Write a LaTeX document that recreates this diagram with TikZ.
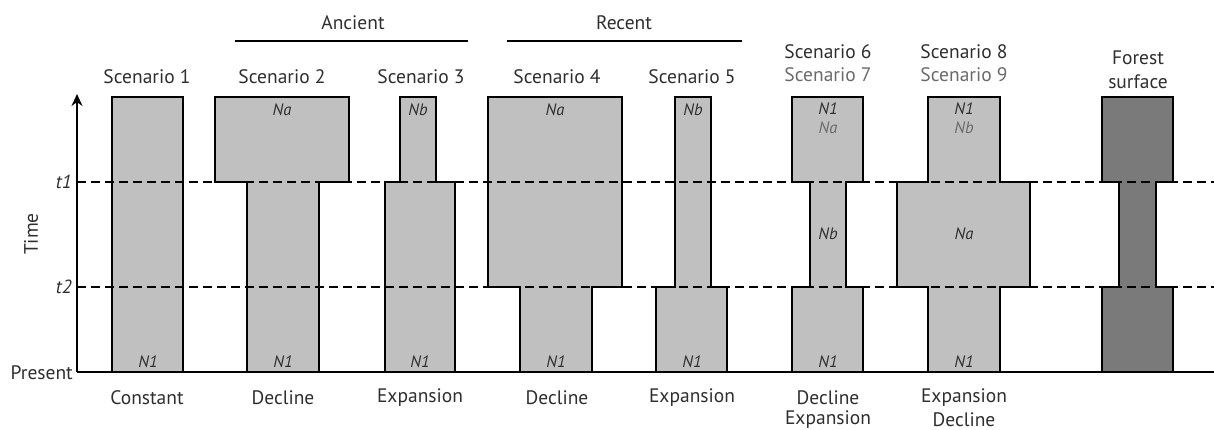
\documentclass[tikz,border=0pt]{standalone}
\usepackage{fontspec}
\setmainfont{PT Sans}
\usetikzlibrary{arrows.meta}
\definecolor{txt}{HTML}{2E2E2E}
\definecolor{txtlight}{HTML}{6A6A6A}
\definecolor{popfill}{HTML}{C0C0C0}
\definecolor{forestfill}{HTML}{7A7A7A}
\tikzset{
  pop/.style={draw=black, line width=2.3pt, fill=popfill, line join=miter},
  forestpop/.style={pop, fill=forestfill},
  lbl/.style={font=\fontsize{19.5}{22}\selectfont, text=txt, inner sep=0pt},
  lbllight/.style={lbl, text=txtlight},
  nlbl/.style={font=\fontsize{16.5}{18}\selectfont\itshape, text=txt, inner sep=0pt},
  nlbllight/.style={nlbl, text=txtlight},
  tlbl/.style={font=\fontsize{19}{21}\selectfont\itshape, text=txt, inner sep=0pt},
  timeline/.style={line width=2.2pt, dash pattern=on 9pt off 5pt},
  axisline/.style={line width=2.3pt},
  groupline/.style={line width=1.8pt},
}
\begin{document}
\begin{tikzpicture}[x=1pt,y=-1pt]
\useasboundingbox (0,0) rectangle (1214,430);
% scenario 1
\draw[pop] (112,97) -- (183,97) -- (183,372) -- (112,372) -- cycle;
% scenario 2
\draw[pop] (215,97) -- (349,97) -- (349,182) -- (319,182) -- (319,372) -- (247,372) -- (247,182) -- (215,182) -- cycle;
% scenario 3
\draw[pop] (400,97) -- (436,97) -- (436,182) -- (455,182) -- (455,372) -- (385,372) -- (385,182) -- (400,182) -- cycle;
% scenario 4
\draw[pop] (488,97) -- (622,97) -- (622,287) -- (592,287) -- (592,372) -- (520,372) -- (520,287) -- (488,287) -- cycle;
% scenario 5
\draw[pop] (675,97) -- (711,97) -- (711,287) -- (727,287) -- (727,372) -- (656,372) -- (656,287) -- (675,287) -- cycle;
% scenario 6/7
\draw[pop] (792,97) -- (863,97) -- (863,182) -- (846,182) -- (846,287) -- (863,287) -- (863,372) -- (792,372) -- (792,287) -- (810,287) -- (810,182) -- (792,182) -- cycle;
% scenario 8/9
\draw[pop] (928,97) -- (1000,97) -- (1000,182) -- (1030,182) -- (1030,287) -- (1000,287) -- (1000,372) -- (928,372) -- (928,287) -- (897,287) -- (897,182) -- (928,182) -- cycle;
% forest surface
\draw[forestpop] (1102,97) -- (1173,97) -- (1173,182) -- (1156,182) -- (1156,287) -- (1173,287) -- (1173,372) -- (1102,372) -- (1102,287) -- (1119,287) -- (1119,182) -- (1102,182) -- cycle;

% axis
\coordinate (origin) at (77,372);
\coordinate (axtop) at (77,94);
\coordinate (axright) at (1214,372);
\coordinate (t1a) at (77,182);
\coordinate (t1b) at (1214,182);
\coordinate (t2a) at (77,287);
\coordinate (t2b) at (1214,287);
\draw[timeline] (t1a) -- (t1b);
\draw[timeline] (t2a) -- (t2b);
\draw[axisline, -{Stealth[length=12pt,width=11pt]}] (origin) -- (axtop);
\draw[axisline] (origin) -- (axright);

\node[lbl, anchor=east] (present) at (73,373) {Present};
\node[tlbl, anchor=east] (t1) at (72,182) {t1};
\node[tlbl, anchor=east] (t2) at (72,287) {t2};
\node[lbl, rotate=90] (time) at (31,234) {Time};

% group headers
\node[lbl] (ancient) at (353,23) {Ancient};
\coordinate (anca) at (235,41);
\coordinate (ancb) at (468,41);
\draw[groupline] (anca) -- (ancb);
\node[lbl] (recent) at (624,23) {Recent};
\coordinate (reca) at (507,41);
\coordinate (recb) at (742,41);
\draw[groupline] (reca) -- (recb);

% scenario titles
\node[lbl] (s1) at (147,77) {Scenario 1};
\node[lbl] (s2) at (282,77) {Scenario 2};
\node[lbl] (s3) at (421,77) {Scenario 3};
\node[lbl] (s4) at (557,77) {Scenario 4};
\node[lbl] (s5) at (692,77) {Scenario 5};
\node[lbl] (s6) at (828,52) {Scenario 6};
\node[lbllight] (s7) at (828,75) {Scenario 7};
\node[lbl] (s8) at (964,52) {Scenario 8};
\node[lbllight] (s9) at (964,75) {Scenario 9};
\node[lbl] (forest) at (1138,58) {Forest};
\node[lbl] (surface) at (1138,82) {surface};

% population size labels
\node[nlbl] (na2) at (282,110) {Na};
\node[nlbl] (nb3) at (418,110) {Nb};
\node[nlbl] (na4) at (555,110) {Na};
\node[nlbl] (nb5) at (693,110) {Nb};
\node[nlbl] (n16) at (828,109) {N1};
\node[nlbllight] (na6) at (828,128) {Na};
\node[nlbl] (nb6) at (828,234) {Nb};
\node[nlbl] (n18) at (964,109) {N1};
\node[nlbllight] (nb8) at (964,128) {Nb};
\node[nlbl] (na8) at (964,234) {Na};
\node[nlbl] (n1a) at (148,362) {N1};
\node[nlbl] (n1b) at (283,362) {N1};
\node[nlbl] (n1c) at (420,362) {N1};
\node[nlbl] (n1d) at (556,362) {N1};
\node[nlbl] (n1e) at (692,362) {N1};
\node[nlbl] (n1f) at (828,362) {N1};
\node[nlbl] (n1g) at (964,362) {N1};

% bottom labels
\node[lbl] (c1) at (147,398) {Constant};
\node[lbl] (c2) at (283,398) {Decline};
\node[lbl] (c3) at (420,398) {Expansion};
\node[lbl] (c4) at (557,398) {Decline};
\node[lbl] (c5) at (692,398) {Expansion};
\node[lbl] (c6) at (828,398) {Decline};
\node[lbl] (c6b) at (828,420) {Expansion};
\node[lbl] (c8) at (964,398) {Expansion};
\node[lbl] (c8b) at (964,420) {Decline};
\end{tikzpicture}
\end{document}
